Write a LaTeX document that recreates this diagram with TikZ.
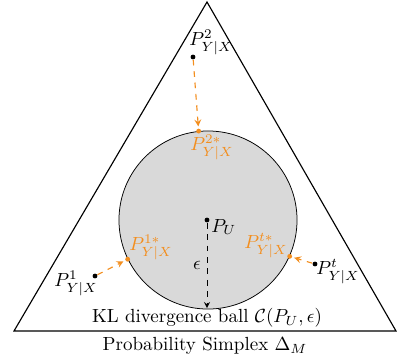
\documentclass[tikz,border=0pt]{standalone}
\usepackage{amsmath, amssymb}
\usepackage{tikz}
\usetikzlibrary{calc, positioning}
\definecolor{projorange}{RGB}{243,142,30}

\begin{document}
\begin{tikzpicture}[>=stealth, x=0.0185cm, y=-0.0185cm,
  dot/.style={circle, fill, inner sep=0.9pt},
  odot/.style={circle, fill=projorange, inner sep=0.9pt},
  proj/.style={->, dashed, projorange, semithick, shorten >=1pt}]
  \useasboundingbox (0,0) rectangle (398,362);
  % simplex and KL ball
  \draw[semithick] (14,331) -- (207,2) -- (396,331) -- cycle;
  \node[circle, draw, fill=black!15, minimum size=3.293cm, inner sep=0pt] (ball) at (208,220) {};
  % centre and radius
  \node[dot] (pu) at (207,220) {};
  \node[anchor=west, inner sep=1pt] (pulab) at (209,227) {$P_U$};
  \coordinate (bot) at (207,308);
  \draw[->, dashed] (pu) -- (bot);
  \node (eps) at (197,265) {$\epsilon$};
  % points and their projections
  \node[dot] (p2) at (193,57) {};
  \node (p2lab) at (211,42) {$P^2_{Y|X}$};
  \node[odot] (p2s) at (ball.96) {};
  \node[text=projorange] (p2slab) at (212,147) {$P^{2*}_{Y|X}$};
  \draw[proj] (p2) -- (p2s);
  \node[dot] (p1) at (95,276) {};
  \node (p1lab) at (76,283) {$P^1_{Y|X}$};
  \node[odot] (p1s) at (ball.206) {};
  \node[text=projorange] (p1slab) at (151,247) {$P^{1*}_{Y|X}$};
  \draw[proj] (p1) -- (p1s);
  \node[dot] (pt) at (315,264) {};
  \node (ptlab) at (338,272) {$P^t_{Y|X}$};
  \node[odot] (pts) at (ball.336) {};
  \node[text=projorange] (ptslab) at (266,246) {$P^{t*}_{Y|X}$};
  \draw[proj] (pt) -- (pts);
  % captions
  \node (balllab) at (207,318) {KL divergence ball $\mathcal{C}(P_U,\epsilon)$};
  \node (simplab) at (205,346) {Probability Simplex $\Delta_M$};
\end{tikzpicture}
\end{document}
